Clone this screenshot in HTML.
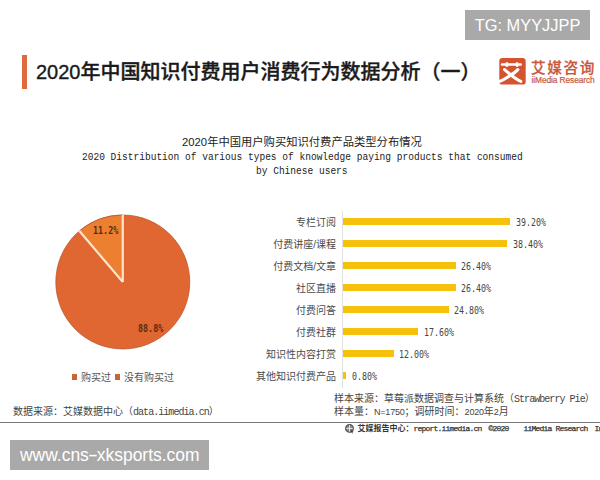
<!DOCTYPE html>
<html lang="zh-CN">
<head>
<meta charset="utf-8">
<title>2020年中国知识付费用户消费行为数据分析（一）</title>
<style>
html,body{margin:0;padding:0;background:#fff;}
body{width:600px;height:480px;position:relative;overflow:hidden;font-family:"Liberation Sans","Noto Sans CJK SC",sans-serif;color:#333;}
.abs{position:absolute;white-space:nowrap;}
.tg{left:465px;top:10px;width:125px;height:30px;background:#a9a9a9;color:#fff;font-size:16.4px;line-height:31.2px;text-align:center;font-family:"Liberation Sans",sans-serif;}
.bar-t{left:22px;top:55px;width:5px;height:34px;background:#e06a40;}
.title{left:36px;top:58px;font-size:20px;font-weight:500;-webkit-text-stroke:0.35px #1a1a1a;color:#1a1a1a;line-height:28px;}
.logo-t{left:531px;top:58.7px;font-size:14.6px;letter-spacing:1.65px;color:#c9573b;line-height:18px;font-weight:500;-webkit-text-stroke:0.25px #c9573b;}
.logo-e{left:531.5px;top:75px;font-size:8.4px;color:#c9573b;line-height:10px;letter-spacing:-0.1px;-webkit-text-stroke:0.2px #c9573b;}
.ct1{left:182px;top:135.2px;font-size:11.3px;line-height:14px;color:#222;}
.mono{font-family:"Liberation Mono",monospace;}
.m10{font-family:"Liberation Mono",monospace;letter-spacing:-0.95px;}
.n9{font-size:9px;letter-spacing:-0.2px;}
.m8{font-family:"Liberation Mono",monospace;letter-spacing:-0.8px;-webkit-text-stroke:0.25px #333;}
.ct2{left:82px;top:149.6px;font-size:11px;line-height:14px;color:#222;transform:scaleX(0.867);transform-origin:0 0;}
.ct3{left:256px;top:164.2px;font-size:11px;line-height:14px;color:#222;transform:scaleX(0.867);transform-origin:0 0;}
.cat{right:264px;font-size:10px;line-height:14px;color:#4a4a4a;text-align:right;margin-top:0.6px;}
.val{font-size:10.5px;line-height:14px;color:#444;font-family:"DejaVu Sans Mono",monospace;transform:scaleX(0.79);transform-origin:0 0;}
.bar{position:absolute;left:343px;height:7px;background:#f6c10c;}
.leg{top:370.5px;font-size:10px;line-height:14px;color:#555;}
.sq{position:absolute;top:374.4px;width:5px;height:5.2px;background:#c8643a;}
.src{left:13px;top:405px;font-size:10px;line-height:14px;color:#444;}
.smp{left:334px;font-size:10px;line-height:13px;color:#444;}
.hline{left:0;top:421.7px;width:600px;height:1.5px;background:#787878;}
.foot{left:357.5px;top:423.5px;font-size:8px;line-height:10px;color:#333;font-weight:bold;}
.wm{left:10px;top:440px;width:199px;height:30px;background:#a9a9a9;color:#fff;font-size:17.45px;line-height:30px;font-family:"Liberation Sans",sans-serif;}
</style>
</head>
<body>

<!-- watermark top-right -->
<div class="abs tg">TG: MYYJJPP</div>

<!-- title -->
<div class="abs bar-t"></div>
<div class="abs title">2020年中国知识付费用户消费行为数据分析（一）</div>

<!-- logo -->
<svg class="abs" style="left:499px;top:57.8px" width="27" height="27" viewBox="0 0 27 27">
  <rect x="0.3" y="0" width="26.4" height="26.6" rx="3.2" fill="#d5532e"/>
  <g fill="#fff">
    <rect x="1.8" y="5.2" width="21.2" height="2.6" rx="1.3"/>
    <ellipse cx="7.9" cy="6.5" rx="1.6" ry="2.6"/>
    <ellipse cx="18.1" cy="6.5" rx="1.6" ry="2.6"/>
  </g>
  <g stroke="#fff" fill="none" stroke-linecap="round">
    <path d="M5.6 11.6 C8 13.6 10 15.5 12 17 C15 19.4 18.5 22 21.8 23.4" stroke-width="3.1"/>
    <path d="M18.8 11.6 C17 13.6 14.6 15.5 12 17 C8.6 19.3 5 21.8 0.9 23.2" stroke-width="3.2"/>
  </g>
</svg>
<div class="abs logo-t">艾媒咨询</div>
<div class="abs logo-e">iiMedia Research</div>

<!-- chart title -->
<div class="abs ct1">2020年中国用户购买知识付费产品类型分布情况</div>
<div class="abs ct2 mono">2020 Distribution of various types of knowledge paying products that consumed</div>
<div class="abs ct3 mono">by Chinese users</div>

<!-- pie -->
<svg class="abs" style="left:0;top:0" width="260" height="400" viewBox="0 0 260 400">
  <circle cx="122.8" cy="282" r="67" fill="#e16732" stroke="#b4542c" stroke-width="0.7"/>
  <path d="M122.8 282 L122.8 215 A67 67 0 0 0 79.4 231 Z" fill="#ec8030" stroke="#b4542c" stroke-width="0.7"/>
  <path d="M122.8 282 L122.8 214.6 M122.8 282 L79.2 230.8" stroke="#fde3cc" stroke-width="2.2"/>
</svg>
<div class="abs" style="left:93px;top:224.2px;font-size:10.5px;line-height:12px;color:#5a2c10;font-family:'DejaVu Sans Mono',monospace;transform:scaleX(0.8);transform-origin:0 0;font-weight:bold">11.2%</div>
<div class="abs" style="left:138px;top:322px;font-size:10.5px;line-height:12px;color:#5a2c10;font-family:'DejaVu Sans Mono',monospace;transform:scaleX(0.8);transform-origin:0 0;font-weight:bold">88.8%</div>

<!-- legend -->
<div class="sq" style="left:72px"></div>
<div class="abs leg" style="left:81px">购买过</div>
<div class="sq" style="left:115px"></div>
<div class="abs leg" style="left:124px">没有购买过</div>

<!-- bar chart -->
<div class="abs" style="left:342px;top:211px;width:1px;height:176.5px;background:#e2e2e2"></div>

<div class="abs cat" style="top:215px">专栏订阅</div>
<div class="bar" style="top:218px;width:167.4px"></div>
<div class="abs val" style="left:516px;top:215px">39.20%</div>

<div class="abs cat" style="top:237px">付费讲座/课程</div>
<div class="bar" style="top:240px;width:164.3px"></div>
<div class="abs val" style="left:512.7px;top:237px">38.40%</div>

<div class="abs cat" style="top:259px">付费文档/文章</div>
<div class="bar" style="top:262px;width:112.7px"></div>
<div class="abs val" style="left:461px;top:259px">26.40%</div>

<div class="abs cat" style="top:281px">社区直播</div>
<div class="bar" style="top:284px;width:112.7px"></div>
<div class="abs val" style="left:461px;top:281px">26.40%</div>

<div class="abs cat" style="top:303px">付费问答</div>
<div class="bar" style="top:306px;width:105.9px"></div>
<div class="abs val" style="left:454px;top:303px">24.80%</div>

<div class="abs cat" style="top:325px">付费社群</div>
<div class="bar" style="top:328px;width:75.2px"></div>
<div class="abs val" style="left:423.5px;top:325px">17.60%</div>

<div class="abs cat" style="top:347px">知识性内容打赏</div>
<div class="bar" style="top:350px;width:50.7px"></div>
<div class="abs val" style="left:399px;top:347px">12.00%</div>

<div class="abs cat" style="top:369px">其他知识付费产品</div>
<div class="bar" style="top:372px;width:3.3px"></div>
<div class="abs val" style="left:351.5px;top:369px">0.80%</div>

<!-- sources -->
<div class="abs src">数据来源：艾媒数据中心（<span class="m10">data.iimedia.cn</span>）</div>
<div class="abs smp" style="top:392.2px">样本来源：草莓派数据调查与计算系统（<span class="m10">Strawberry Pie</span>）</div>
<div class="abs smp" style="top:404.8px">样本量：<span class="n9">N=1750</span>；调研时间：<span class="n9">2020</span>年<span class="n9">2</span>月</div>

<div class="abs hline"></div>

<!-- footer -->
<svg class="abs" style="left:344px;top:423px" width="12" height="12" viewBox="0 0 12 12">
  <circle cx="5.5" cy="5.4" r="3.8" fill="#8a8a8a" stroke="#555" stroke-width="1.3"/>
  <path d="M2.2 5.4 H8.8 M5.5 2.1 V8.7" stroke="#eee" stroke-width="0.9"/>
  <path d="M6.6 6.4 L9.6 8.6 L8.3 8.9 L9.1 10.2 L8.4 10.5 L7.7 9.3 L6.8 10 Z" fill="#444"/>
</svg>
<div class="abs foot">艾媒报告中心：<span class="m8" style="font-weight:normal">report.iimedia.cn</span></div>
<div class="abs foot m8" style="left:488.5px;font-weight:normal">©2020</div>
<div class="abs foot m8" style="left:523.5px;font-weight:normal">iiMedia Research</div>
<div class="abs foot m8" style="left:594.5px;font-weight:normal">Inc</div>

<!-- watermark bottom -->
<div class="abs wm"><span style="position:absolute;left:10px">www.cns<span style="display:inline-block;transform:scaleX(1.7);margin:0 1.1px">-</span>xksports.com</span></div>

</body>
</html>
